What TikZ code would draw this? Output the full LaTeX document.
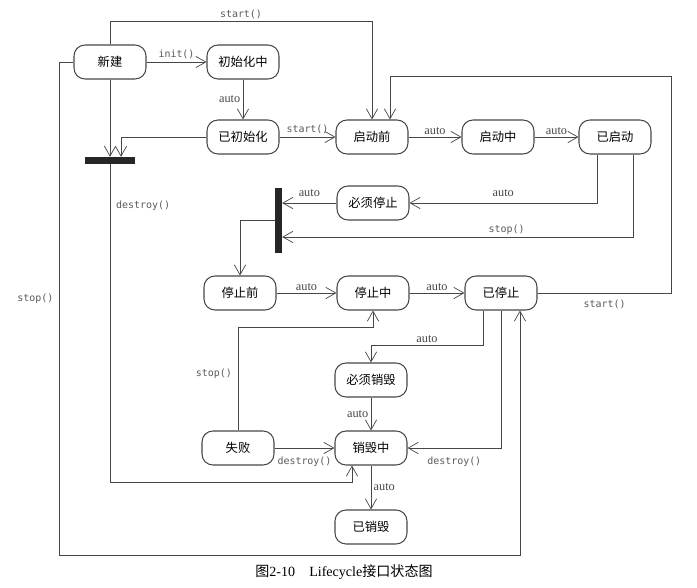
\documentclass[tikz,border=0pt]{standalone}
\usepackage{fontspec}
\setmainfont{Liberation Serif}
\setmonofont{DejaVu Sans Mono}
\newfontfamily\cjk{Noto Sans CJK SC}
\usepackage{tikz}
\usetikzlibrary{arrows.meta, positioning, calc}
\definecolor{linegray}{RGB}{70,70,70}
\definecolor{labelgray}{RGB}{90,90,90}

\begin{document}
\begin{tikzpicture}[
    x=0.03cm, y=-0.03cm,
    state/.style={rectangle, rounded corners=0.33cm, minimum width=2.16cm, minimum height=1.02cm, draw=linegray, line width=0.9pt, font=\cjk\fontsize{10.5}{12}\selectfont},
    syncbar/.style={rectangle, fill=black!85, inner sep=0pt},
    arrow/.style={-{Straight Barb[length=3mm, width=3.4mm]}, linegray, line width=0.6pt},
    autolbl/.style={font=\fontsize{10.5}{12}\selectfont, inner sep=2pt},
    calllbl/.style={font=\ttfamily\fontsize{8.5}{10}\selectfont, text=labelgray, inner sep=2pt}
]
\useasboundingbox (0,0) rectangle (697,588);

% States
\node[state] (xinjian) at (110,62) {新建};
\node[state] (chushihuazhong) at (243,62) {初始化中};
\node[state] (yichushihua) at (243,137) {已初始化};
\node[state] (qidongqian) at (372,137) {启动前};
\node[state] (qidongzhong) at (498,137) {启动中};
\node[state] (yiqidong) at (615,137) {已启动};
\node[state] (bixutingzhi) at (373,203) {必须停止};
\node[state] (tingzhiqian) at (240,293) {停止前};
\node[state] (tingzhizhong) at (373,293) {停止中};
\node[state] (yitingzhi) at (501,293) {已停止};
\node[state] (bixuxiaohui) at (371,380) {必须销毁};
\node[state] (shibai) at (238,448) {失败};
\node[state] (xiaohuizhong) at (371,448) {销毁中};
\node[state] (yixiaohui) at (371,527) {已销毁};

% Sync bars
\node[syncbar, minimum width=1.47cm, minimum height=0.21cm] (initbar) at (110,160.5) {};
\node[syncbar, minimum width=0.21cm, minimum height=1.95cm] (stopbar) at (278.5,220.5) {};

% Start path
\draw[arrow] (xinjian) -- node[calllbl, above]{init()} (chushihuazhong);
\draw[arrow] (chushihuazhong) -- node[autolbl, left]{auto} (yichushihua);
\draw[arrow] (yichushihua) -- node[calllbl, above]{start()} (qidongqian);
\draw[arrow] (xinjian.north) -- ++(0,-23) -| node[calllbl, above, pos=0.25]{start()} (qidongqian.north);
\draw[arrow] (yitingzhi.east) -- node[calllbl, below=4pt]{start()} ++(134,0) -- ++(0,-217) -| ($(qidongqian.north)+(18,0)$);
\draw[arrow] (qidongqian) -- node[autolbl, above]{auto} (qidongzhong);
\draw[arrow] (qidongzhong) -- node[autolbl, above]{auto} (yiqidong);

% Stop path
\draw[arrow] ($(yiqidong.south)+(-18,0)$) |- node[autolbl, above=3pt, pos=0.75]{auto} (bixutingzhi.east);
\draw[arrow] ($(yiqidong.south)+(18,0)$) |- node[calllbl, above, pos=0.68]{stop()} ($(stopbar.east)+(0,16.5)$);
\draw[arrow] (bixutingzhi.west) -- node[autolbl, above=3pt]{auto} (bixutingzhi.west -| stopbar.east);
\draw[arrow] (stopbar.west) -| (tingzhiqian.north);
\draw[arrow] (tingzhiqian) -- node[autolbl, above]{auto} (tingzhizhong);
\draw[arrow] (tingzhizhong) -- node[autolbl, above]{auto} (yitingzhi);

% Destroy path
\draw[arrow] (yichushihua.west) -| ($(initbar.north)+(11,0)$);
\draw[arrow] (xinjian.south) -- (xinjian.south |- initbar.north);
\draw[arrow] (initbar.south) -- node[calllbl, right=3pt, pos=0.13]{destroy()} ++(0,318) -| ($(xiaohuizhong.south)+(-19,0)$);
\draw[arrow] (xinjian.west) -- ++(-14,0) -- node[calllbl, left=3pt, pos=0.48]{stop()} ++(0,493) -| ($(yitingzhi.south)+(19,0)$);
\draw[arrow] (shibai.north) -- node[calllbl, left=3pt, pos=0.55]{stop()} ++(0,-103) -| (tingzhizhong.south);
\draw[arrow] ($(yitingzhi.south)+(-18,0)$) -- ++(0,35) -| node[autolbl, above, pos=0.25]{auto} (bixuxiaohui.north);
\draw[arrow] (bixuxiaohui) -- node[autolbl, left]{auto} (xiaohuizhong);
\draw[arrow] (yitingzhi.south) |- node[calllbl, below=5pt, pos=0.75]{destroy()} (xiaohuizhong.east);
\draw[arrow] (shibai) -- node[calllbl, below=5pt]{destroy()} (xiaohuizhong);
\draw[arrow] (xiaohuizhong) -- node[autolbl, right]{auto} (yixiaohui);

% Caption
\node[font=\fontsize{12}{14}\selectfont] (caption) at (344,572) {{\cjk 图}2-10\quad Lifecycle{\cjk 接口状态图}};

\end{tikzpicture}
\end{document}
